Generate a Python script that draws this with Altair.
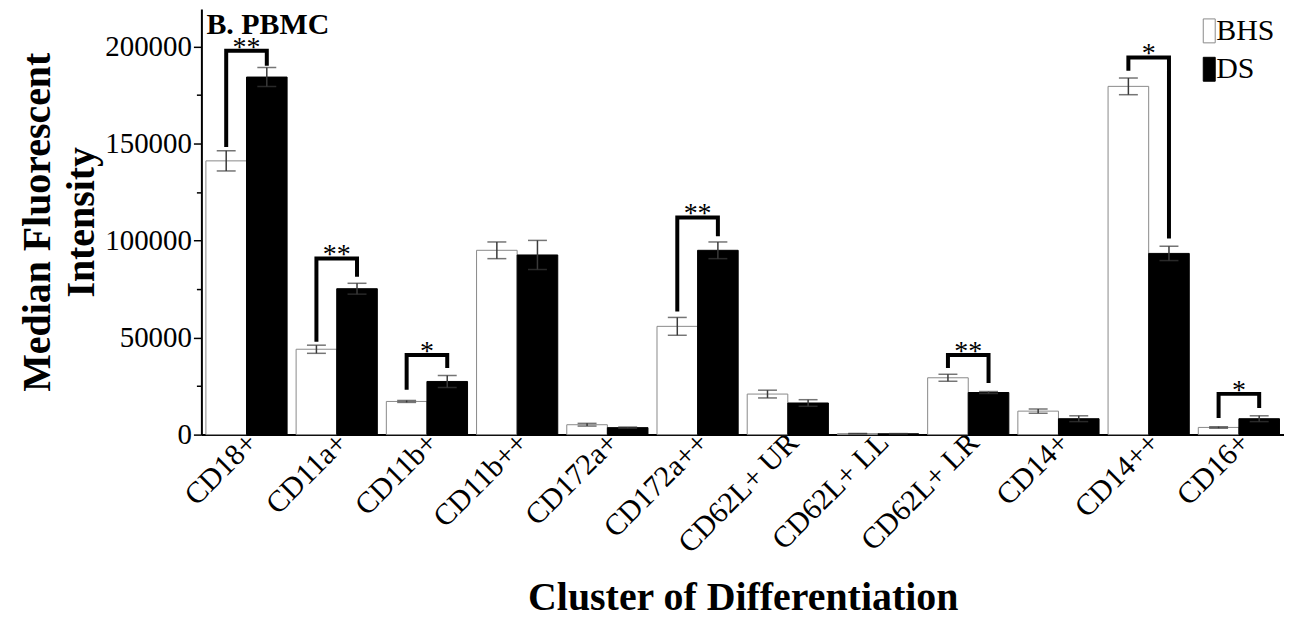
import altair as alt
import pandas as pd

FONT = "Liberation Serif"

panel_title = ["B. PBMC"]
categories = ["CD18+", "CD11a+", "CD11b+", "CD11b++", "CD172a+", "CD172a++",
              "CD62L+ UR", "CD62L+ LL", "CD62L+ LR", "CD14+", "CD14++", "CD16+"]
groups = ["BHS", "DS"]
bhs_values = [141100, 44000, 17100, 95000, 5100, 55800, 20900, 500, 29300, 12100, 179500, 3700]
bhs_errors = [5200, 2100, 500, 4300, 700, 4600, 2000, 100, 1800, 1100, 4300, 400]
ds_values = [184300, 75200, 27400, 92600, 3600, 95000, 16300, 450, 21700, 8200, 93400, 8200]
ds_errors = [4900, 2800, 3100, 7500, 300, 4300, 1700, 100, 500, 1500, 3700, 1500]

sig_categories = ["CD18+", "CD11a+", "CD11b+", "CD172a++", "CD62L+ LR", "CD14++", "CD16+"]
sig_top = [197800, 90800, 41000, 111900, 41000, 194400, 21000]
sig_left = [148200, 47900, 23100, 63400, 34300, 187600, 8600]
sig_right = [190100, 81400, 34300, 102300, 26600, 101100, 13700]
sig_stars = ["**", "**", "*", "**", "**", "*", "*"]

rows = []
for c, b, be, d, de in zip(categories, bhs_values, bhs_errors, ds_values, ds_errors):
    rows.append(dict(cat=c, grp="BHS", value=b, lo=b - be, hi=b + be))
    rows.append(dict(cat=c, grp="DS", value=d, lo=d - de, hi=d + de))
bars_df = pd.DataFrame(rows)

br_rows = []
for i, (c, t, l, r) in enumerate(zip(sig_categories, sig_top, sig_left, sig_right)):
    br_rows += [
        dict(id=i, seq=0, cat=c, grp="BHS", yv=l),
        dict(id=i, seq=1, cat=c, grp="BHS", yv=t),
        dict(id=i, seq=2, cat=c, grp="DS", yv=t),
        dict(id=i, seq=3, cat=c, grp="DS", yv=r),
    ]
br_df = pd.DataFrame(br_rows)
star_df = pd.DataFrame(dict(cat=sig_categories, top=sig_top, stars=sig_stars))
title_df = pd.DataFrame(dict(t=panel_title))

x_scale = alt.Scale(domain=categories, paddingInner=0.1, paddingOuter=0.05)
x_axis = alt.Axis(title="Cluster of Differentiation", labelAngle=-45, ticks=False,
                  labelPadding=3, labelOffset=6, labelBaseline="middle", labelAlign="right",
                  domainColor="black", domainWidth=2,
                  labelFont=FONT, labelFontSize=30, labelColor="black", labelLimit=400,
                  titleFont=FONT, titleFontSize=40, titleFontWeight="bold",
                  titleColor="black", titleY=175, titleBaseline="alphabetic")


def xe():
    return alt.X("cat:N", sort=categories, scale=x_scale, axis=x_axis)


def xo():
    return alt.XOffset("grp:N", scale=alt.Scale(domain=groups, paddingInner=0, paddingOuter=0))


y_scale = alt.Scale(domain=[0, 219400], nice=False, zero=True)
y_axis = alt.Axis(title=["Median Fluorescent", "Intensity"],
                  values=list(range(0, 200001, 25000)), format="d",
                  labelExpr="datum.value % 50000 === 0 ? datum.label : ''",
                  tickSize={"condition": {"test": "datum.value % 50000 === 0", "value": 8}, "value": 5},
                  tickColor="black", tickWidth=1.5, domainColor="black", domainWidth=2,
                  labelFont=FONT, labelFontSize=29, labelColor="black", labelPadding=2,
                  grid=False, titleFont=FONT, titleFontSize=40, titleFontWeight="bold",
                  titleColor="black", titleLineHeight=44, titleX=-144, titleBaseline="bottom")


def ye(field):
    return alt.Y(field, scale=y_scale, axis=y_axis)


legend = alt.Legend(orient="none", legendX=987, legendY=7, title=None,
                    symbolType="M0.5,-2H2.5V2H0.5Z", symbolSize=144,
                    symbolStrokeWidth=1, labelFont=FONT, labelFontSize=30,
                    labelColor="black", labelOffset=1, rowPadding=8.5, padding=0)

bars = alt.Chart(bars_df).mark_bar(strokeWidth=1).encode(
    x=xe(), xOffset=xo(), y=ye("value:Q"),
    fill=alt.Fill("grp:N", scale=alt.Scale(domain=groups, range=["white", "black"]), legend=legend),
    stroke=alt.Stroke("grp:N", scale=alt.Scale(domain=groups, range=["#8a8a8a", "black"]), legend=legend),
)

err = alt.Chart(bars_df).mark_rule(color="#3a3a3a", strokeWidth=1.5).encode(
    x=xe(), xOffset=xo(), y=ye("lo:Q"), y2="hi:Q")
cap_lo = alt.Chart(bars_df).mark_tick(color="#3a3a3a", thickness=1.5, size=19).encode(
    x=xe(), xOffset=xo(), y=ye("lo:Q"))
cap_hi = alt.Chart(bars_df).mark_tick(color="#3a3a3a", thickness=1.5, size=19).encode(
    x=xe(), xOffset=xo(), y=ye("hi:Q"))

brackets = alt.Chart(br_df).mark_line(color="black", strokeWidth=4, strokeJoin="miter",
                                      strokeCap="butt").encode(
    x=xe(), xOffset=xo(), y=ye("yv:Q"), detail="id:N", order="seq:O")

stars = alt.Chart(star_df).mark_text(font=FONT, fontSize=28, baseline="alphabetic",
                                     dy=5, color="black").encode(
    x=xe(), y=ye("top:Q"), text="stars:N")

panel = alt.Chart(title_df).mark_text(font=FONT, fontSize=30, fontWeight="bold",
                                      align="left", baseline="alphabetic", color="black",
                                      x=5, y=25).encode(text="t:N")

chart = alt.layer(bars, err, cap_lo, cap_hi, brackets, stars, panel).properties(
    width=1086, height=427,
    padding={"left": 194, "top": 0, "right": 0, "bottom": 181},
    autosize=alt.AutoSizeParams(type="none"),
).configure_view(strokeWidth=0)

chart.save("out.html", embed_options={"renderer": "svg", "actions": False})
